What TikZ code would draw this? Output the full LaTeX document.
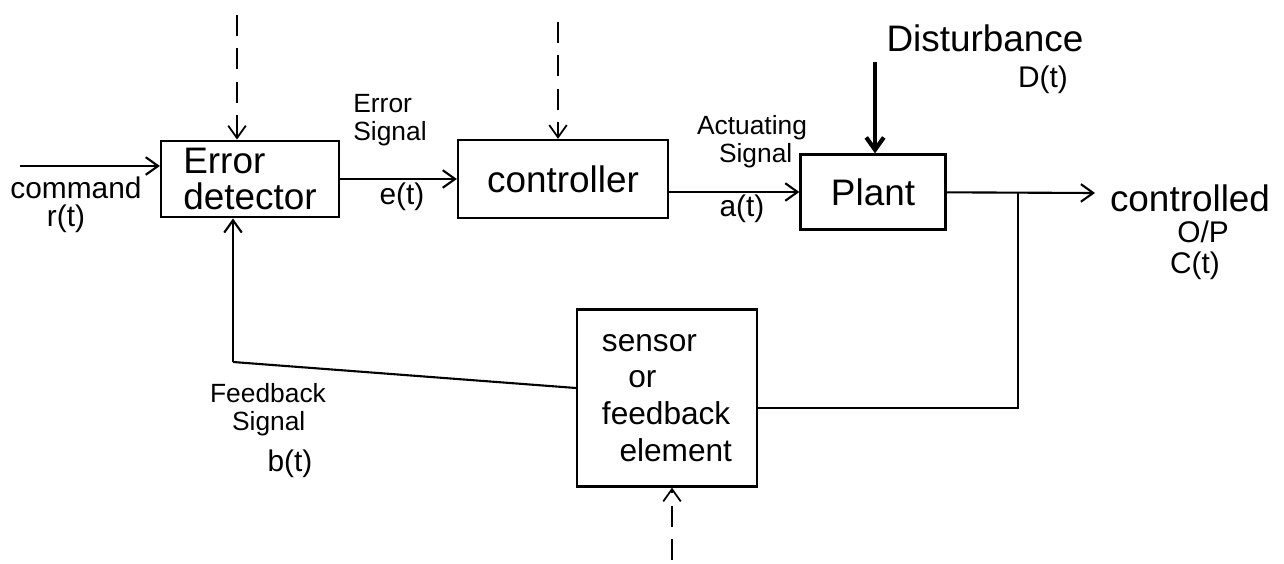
\documentclass[tikz,border=0pt]{standalone}
\usepackage{fontspec}
\setmainfont{Liberation Sans}
\usetikzlibrary{arrows.meta,calc}
\begin{document}
\begin{tikzpicture}[x=0.02cm,y=-0.02cm,
  line width=1.2pt,
  >={Straight Barb[length=7pt,width=10pt]},
  blk/.style={draw,line width=1.3pt,inner sep=4pt,font=\fontsize{21}{21}\selectfont},
  lbl/.style={inner sep=0pt,font=\fontsize{17}{19}\selectfont},
  sml/.style={inner sep=0pt,font=\fontsize{15}{16}\selectfont},
  big/.style={inner sep=0pt,font=\fontsize{21}{22}\selectfont},
  dashline/.style={dash pattern=on 12pt off 7pt,line width=1pt}]
\useasboundingbox (0,0) rectangle (1284,564);
% blocks
\node[blk,minimum width=178*0.02cm,minimum height=67*0.02cm,align=left] (ed) at (250,179) {Error\\detector};
\node[blk,minimum width=210*0.02cm,minimum height=78*0.02cm] (ctrl) at (563,179) {controller};
\node[blk,minimum width=145*0.02cm,minimum height=75*0.02cm] (plant) at (873,192) {Plant};
\node[blk,minimum width=180*0.02cm,minimum height=177*0.02cm,align=left,font=\fontsize{18}{21}\selectfont] (sens) at (667,398) {sensor\\\ \ \ or\\feedback\\\ \ element};
% coordinates
\coordinate (in) at (20,166);
\coordinate (out) at (1095,193);
\coordinate (br) at (1018,193);
\coordinate (dtop) at (875,62);
\coordinate (d1) at (237,15);
\coordinate (d2) at (558,22);
\coordinate (d3) at (672,560);
\coordinate (fb) at (233,362);
% connectors
\draw[->] (in) -- (in -| ed.west);
\draw[->] (ed) -- (ctrl);
\draw[->] (ctrl.east |- plant) -- (plant);
\draw[->] (plant) -- (out);
\draw (br) |- ($(sens.east)+(0,10)$);
\draw ($(sens.west)+(0,-10)$) -- (fb);
\draw[->] (fb) -- (fb |- ed.south);
\draw[->,line width=2.4pt] (dtop) -- (dtop |- plant.north);
\draw[->,dashline] (d1) -- (d1 |- ed.north);
\draw[->,dashline] (d2) -- (d2 |- ctrl.north);
\draw[->,dashline] (d3) -- (d3 |- sens.south);
% labels
\node[lbl] (lcmd) at (76,188) {command};
\node[lbl] (lr) at (66,219) {r(t)};
\node[sml,align=left] (lerr) at (390,120) {Error\\Signal};
\node[lbl] (le) at (402,197) {e(t)};
\node[sml,align=left] (lact) at (752,142) {Actuating\\\ \ \ Signal};
\node[lbl] (la) at (742,209) {a(t)};
\node[big] (ldist) at (985,38) {Disturbance};
\node[lbl] (ld) at (1043,80) {D(t)};
\node[big] (lco) at (1190,198) {controlled};
\node[lbl] (lop) at (1203,232) {O/P};
\node[lbl] (lc) at (1195,266) {C(t)};
\node[sml,align=left] (lfb) at (268,410) {Feedback\\\ \ \ Signal};
\node[lbl] (lb) at (290,464) {b(t)};
\end{tikzpicture}
\end{document}
